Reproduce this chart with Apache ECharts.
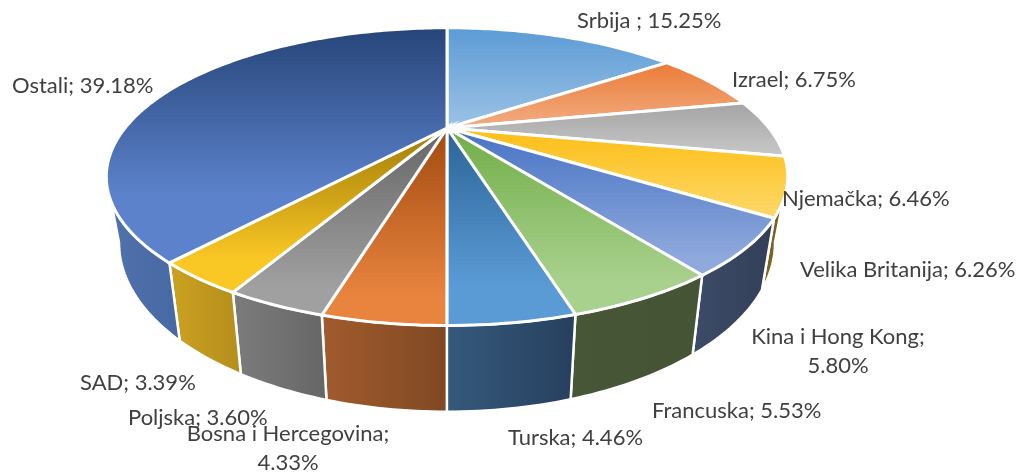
<!DOCTYPE html>
<html><head><meta charset="utf-8">
<style>html,body{margin:0;padding:0;background:#fff}#c{width:1023px;height:475px}</style>
<script src="https://cdn.jsdelivr.net/npm/echarts@6/dist/echarts.min.js"></script>
</head><body><div id="c"></div>
<script>
// ---- data ----
const categories = ['Srbija ', 'Izrael', 'Njemačka', 'Velika Britanija', 'Kina i Hong Kong', 'Francuska', 'Turska', 'Bosna i Hercegovina', 'Poljska', 'SAD', 'Ostali'];
const shares = [15.25, 6.75, 6.46, 6.26, 5.80, 5.53, 4.46, 4.33, 3.60, 3.39, 39.18];

// ---- styles ----
const topColors = [
  ['#5b9bd5', '#9dc3e6'], ['#ea7b35', '#f2ae85'], ['#a3a3a3', '#c9c9c9'], ['#fdbd14', '#fdd96a'],
  ['#4672c4', '#8fa9dc'], ['#70ad47', '#a9d18e'], ['#2a6396', '#5b9bd5'], ['#a04a10', '#e9843f'],
  ['#656565', '#a0a0a0'], ['#a07a08', '#fac825'], ['#264478', '#5b82ca']
];
const topGradientEnd = [1, 1, 1, 1, 0.88, 0.82, 0.8, 0.85, 0.85, 0.8, 0.7];
const wallColors = [
  ['#3a6c9c', '#2f5a85'], ['#a65a28', '#8f4e22'], ['#7a7a7a', '#666666'], ['#7f6a22', '#6f5c1c'],
  ['#3c4b68', '#333f57'], ['#465637', '#445434'], ['#355a7c', '#273f5e'], ['#a25b2d', '#7f4823'],
  ['#7c7c7c', '#666666'], ['#cca221', '#b48e1c'], ['#5272ad', '#4668a3']
];
// label anchor: [x, y, align]
const labelLayout = [
  [577, 21, 'left'], [732, 80, 'left'], [782, 199, 'left'], [800, 270, 'left'], [838, 351, 'center'],
  [652, 411, 'left'], [508, 438, 'left'], [288, 448, 'center'], [128, 418, 'left'], [80, 383, 'left'], [12, 86, 'left']
];
const wrapAfterName = [4, 7];

// ---- projection (tilted disc with perspective) ----
const K = 0.3266;
const TOP = {cx: 447, cy: 128, bx: 322, by: 133};
const BOTTOM = {cx: 447, cy: 187.5, bx: 310, by: 151};
const SILHOUETTE_R = 109, SILHOUETTE_L = 251;
function project(ring, deg) {
  const t = deg * Math.PI / 180, z = Math.cos(t), x = Math.sin(t), w = 1 + K * z;
  return [ring.cx + ring.bx * x / w, ring.cy - ring.by * z / w];
}
function arc(ring, a, b) {
  const pts = [], n = Math.max(2, Math.ceil(Math.abs(b - a)));
  for (let i = 0; i <= n; i++) pts.push(project(ring, a + (b - a) * i / n));
  return pts;
}
const total = shares.reduce((s, v) => s + v, 0);
let acc = 0;
const spans = shares.map(v => { const a = acc / total * 360; acc += v; return [a, acc / total * 360]; });
const grad = (c, horizontal, end) => ({type: 'linear', x: 0, y: 0, x2: horizontal ? 1 : 0, y2: horizontal ? 0 : 1,
  colorStops: [{offset: 0, color: c[0]}, {offset: end, color: c[1]}, {offset: 1, color: c[1]}]});
const seriesData = categories.map((name, i) => ({name, value: shares[i]}));

function renderWall(p) {
  const i = p.dataIndex, [a0, b0] = spans[i];
  const a = Math.max(a0, SILHOUETTE_R), b = Math.min(b0, SILHOUETTE_L);
  if (b <= a) return {type: 'group', children: []};
  return {type: 'polygon', shape: {points: arc(TOP, a, b).concat(arc(BOTTOM, b, a))},
    style: {fill: grad(wallColors[i], true, 1), stroke: '#fff', lineWidth: 2.5, lineJoin: 'round'}};
}
function renderTop(p) {
  const i = p.dataIndex, [a, b] = spans[i];
  return {type: 'polygon', shape: {points: [[TOP.cx, TOP.cy]].concat(arc(TOP, a, b))},
    style: {fill: grad(topColors[i], false, topGradientEnd[i]), stroke: '#fff', lineWidth: 3, lineJoin: 'miter'}};
}
function renderLabel(p) {
  const i = p.dataIndex, [x, y, align] = labelLayout[i];
  const sep = wrapAfterName.includes(i) ? ';\n' : '; ';
  return {type: 'text', x, y, style: {
    text: categories[i] + sep + shares[i].toFixed(2) + '%',
    fill: '#404040', font: '22px Lato', align, verticalAlign: 'middle', lineHeight: 29}};
}
const chart = echarts.init(document.getElementById('c'), null, {renderer: 'canvas'});
const base = {type: 'custom', coordinateSystem: 'none', data: seriesData, silent: true, animation: false};
chart.setOption({
  animation: false,
  series: [
    Object.assign({}, base, {renderItem: renderWall, z: 1}),
    Object.assign({}, base, {renderItem: renderTop, z: 2}),
    Object.assign({}, base, {renderItem: renderLabel, z: 3})
  ]
});
</script></body></html>
